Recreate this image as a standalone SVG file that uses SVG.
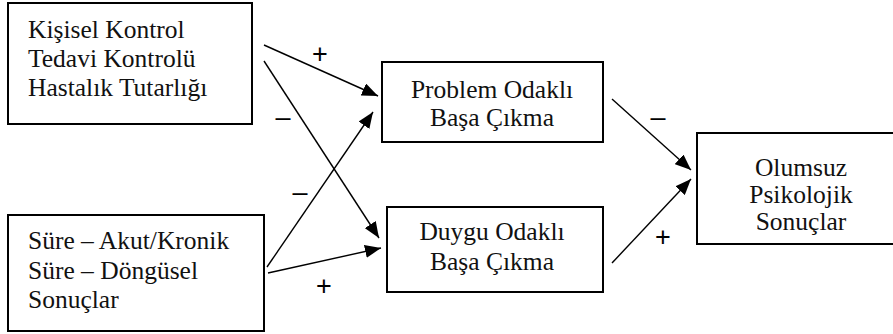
<svg xmlns="http://www.w3.org/2000/svg" width="893" height="334" viewBox="0 0 893 334">
<style>
.box{fill:#fff;stroke:#000;stroke-width:2}
.conn{stroke:#000;stroke-width:1.4;fill:none}
</style>
<defs>
<marker id="ah" markerWidth="17" markerHeight="13" refX="16" refY="6.5" markerUnits="userSpaceOnUse" orient="auto">
<path d="M0,0 L16,6.5 L0,13 Z" fill="#000"/>
</marker>
</defs>
<rect width="893" height="334" fill="#fff"/>
<g id="n1" font-family="Liberation Serif, serif" font-size="25.5" fill="#111">
<rect class="box" x="8" y="3" width="244" height="121"/>
<text x="28" y="38">Kişisel Kontrol</text>
<text x="28" y="67">Tedavi Kontrolü</text>
<text x="28" y="96">Hastalık Tutarlığı</text>
</g>
<g id="n2" font-family="Liberation Serif, serif" font-size="25.5" fill="#111">
<rect class="box" x="8" y="215" width="256" height="116"/>
<text x="28" y="249">Süre – Akut/Kronik</text>
<text x="28" y="279">Süre – Döngüsel</text>
<text x="28" y="308">Sonuçlar</text>
</g>
<g id="n3" font-family="Liberation Serif, serif" font-size="25.5" fill="#111" text-anchor="middle">
<rect class="box" x="382" y="62" width="221" height="80"/>
<text x="492" y="98">Problem Odaklı</text>
<text x="492" y="126">Başa Çıkma</text>
</g>
<g id="n4" font-family="Liberation Serif, serif" font-size="25.5" fill="#111" text-anchor="middle">
<rect class="box" x="387" y="207" width="216" height="85"/>
<text x="492" y="240">Duygu Odaklı</text>
<text x="492" y="270">Başa Çıkma</text>
</g>
<g id="n5" font-family="Liberation Serif, serif" font-size="25.5" fill="#111" text-anchor="middle">
<rect class="box" x="697" y="133" width="210" height="111"/>
<text x="801" y="176">Olumsuz</text>
<text x="801" y="203">Psikolojik</text>
<text x="801" y="230">Sonuçlar</text>
</g>
<g id="connectors">
<line class="conn" x1="264" y1="45" x2="378" y2="96" marker-end="url(#ah)"/>
<line class="conn" x1="264" y1="61" x2="379" y2="238" marker-end="url(#ah)"/>
<line class="conn" x1="267" y1="267" x2="373" y2="112" marker-end="url(#ah)"/>
<line class="conn" x1="268" y1="273" x2="381" y2="248" marker-end="url(#ah)"/>
<line class="conn" x1="612" y1="99" x2="691" y2="170" marker-end="url(#ah)"/>
<line class="conn" x1="612" y1="263" x2="691" y2="179" marker-end="url(#ah)"/>
</g>
<g id="labels" font-family="Liberation Sans, Arial, sans-serif" font-size="27" fill="#000" text-anchor="middle">
<text x="320" y="63">+</text>
<text x="283" y="126">–</text>
<text x="300" y="201">–</text>
<text x="324" y="295">+</text>
<text x="658" y="126">–</text>
<text x="663" y="246">+</text>
</g>
</svg>
